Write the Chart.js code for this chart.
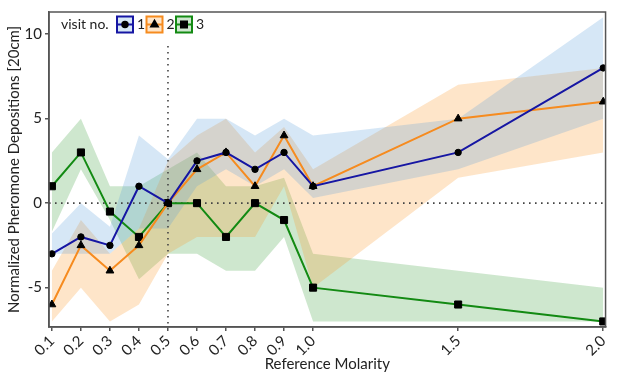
<!DOCTYPE html>
<html>
<head>
<meta charset="utf-8">
<script src="https://cdn.jsdelivr.net/npm/chart.js@4.4.1/dist/chart.umd.min.js"></script>
<style>
  html, body { margin: 0; padding: 0; background: #fff; }
</style>
</head>
<body>
<canvas id="chart" width="617" height="380"></canvas>
<script>
// data
const molarity = [0.1, 0.2, 0.3, 0.4, 0.5, 0.6, 0.7, 0.8, 0.9, 1.0, 1.5, 2.0];
const xTicks = [0.1, 0.2, 0.3, 0.4, 0.5, 0.6, 0.7, 0.8, 0.9, 1.0, 1.5, 2.0];
const yTicks = [-5, 0, 5, 10];

const visit1 = [-3, -2, -2.5, 1, 0, 2.5, 3, 2, 3, 1, 3, 8];
const visit1Upper = [-1.8, 0, -1.4, 4, 2.6, 5, 5, 4, 5, 4, 5, 11];
const visit1Lower = [-3, -3, -3, -1.5, -1.5, 1, 2, 1, 2, 0.3, 2, 5];

const visit2 = [-6, -2.5, -4, -2.5, 0, 2, 3, 1, 4, 1, 5, 6];
const visit2Upper = [-4, -1, -3, -1.5, 2.5, 4, 5, 3, 4.5, 2, 7, 8];
const visit2Lower = [-7, -5, -7, -6, -3, -2, -2, -2, 1, -5, 1.5, 3];

const visit3 = [1, 3, -0.5, -2, 0, 0, -2, 0, -1, -5, -6, -7];
const visit3Upper = [3, 5, 1, 1, 2, 3, 1, 1, 1.5, -3, -4, -5];
const visit3Lower = [-1.7, 2, -1, -4.5, -3, -3, -4, -4, -2, -7, -7, -7];

const visitLabels = ["1", "2", "3"];

const FONT = "Lato, 'Open Sans', sans-serif";

const series = [
    { label: "1", values: visit1, upper: visit1Upper, lower: visit1Lower,
      line: "#1616a3", band: "rgba(90,160,220,0.25)", marker: "circle", radius: 3.2 },
    { label: "2", values: visit2, upper: visit2Upper, lower: visit2Lower,
      line: "#f68b1f", band: "rgba(252,150,40,0.25)", marker: "triangle", radius: 4.5 },
    { label: "3", values: visit3, upper: visit3Upper, lower: visit3Lower,
      line: "#138a13", band: "rgba(60,160,60,0.25)", marker: "rect", radius: 5 }
];

function pts(arr) {
    return arr.map((v, i) => ({ x: molarity[i], y: v }));
}

const datasets = [];
series.forEach(s => {
    datasets.push({
        label: s.label + " upper", data: pts(s.upper),
        borderWidth: 0, pointRadius: 0, fill: false, order: 2
    });
    datasets.push({
        label: s.label + " lower", data: pts(s.lower),
        borderWidth: 0, pointRadius: 0, backgroundColor: s.band, fill: "-1", order: 2
    });
});
series.forEach(s => {
    datasets.push({
        label: s.label, data: pts(s.values),
        borderColor: s.line, borderWidth: 2,
        pointStyle: s.marker, pointRadius: s.radius,
        pointBackgroundColor: "#000", pointBorderColor: "#000", pointBorderWidth: 1,
        fill: false, order: 1
    });
});

// dotted lines at y = 0 and x = 0.5
const refLines = {
    id: "refLines",
    beforeDatasetsDraw(chart) {
        const { ctx, chartArea, scales } = chart;
        ctx.save();
        ctx.strokeStyle = "#444";
        ctx.lineWidth = 1.6;
        ctx.setLineDash([1.6, 4.4]);
        const y0 = scales.y.getPixelForValue(0);
        ctx.beginPath();
        ctx.moveTo(chartArea.left, y0);
        ctx.lineTo(chartArea.right, y0);
        ctx.stroke();
        const x0 = scales.x.getPixelForValue(0.5);
        ctx.beginPath();
        ctx.moveTo(x0, scales.y.getPixelForValue(9.3));
        ctx.lineTo(x0, chartArea.bottom);
        ctx.stroke();
        ctx.restore();
    }
};

// box round the plot and the legend inside it
const frameAndLegend = {
    id: "frameAndLegend",
    afterDraw(chart) {
        const { ctx, chartArea } = chart;
        ctx.save();
        ctx.strokeStyle = "#555";
        ctx.lineWidth = 1.5;
        ctx.strokeRect(chartArea.left, chartArea.top, chartArea.right - chartArea.left, chartArea.bottom - chartArea.top);

        ctx.font = "14px " + FONT;
        ctx.fillStyle = "#222";
        ctx.textBaseline = "middle";
        ctx.textAlign = "left";
        const ly = 24.5;
        ctx.fillText("visit no.", 61, ly);

        let x = 117;
        series.forEach((s, i) => {
            const w = 16, h = 16;
            ctx.fillStyle = s.band;
            ctx.fillRect(x, ly - h / 2, w, h);
            ctx.strokeStyle = s.line;
            ctx.lineWidth = 2;
            ctx.strokeRect(x, ly - h / 2, w, h);
            ctx.beginPath();
            ctx.moveTo(x, ly);
            ctx.lineTo(x + w, ly);
            ctx.stroke();
            ctx.fillStyle = "#000";
            ctx.strokeStyle = "#000";
            Chart.helpers.drawPoint(ctx, { pointStyle: s.marker, radius: s.radius * 0.85, rotation: 0, borderWidth: 1 }, x + w / 2, ly);
            ctx.fillStyle = "#222";
            ctx.fillText(visitLabels[i], x + w + 4, ly);
            x += 29.5;
        });
        ctx.restore();
    }
};

new Chart(document.getElementById("chart"), {
    type: "line",
    data: { datasets },
    options: {
        responsive: false,
        animation: false,
        devicePixelRatio: 1,
        layout: { padding: { top: 7, right: 8, left: 0, bottom: 0 } },
        plugins: {
            legend: { display: false },
            tooltip: { enabled: false },
            filler: { drawTime: "beforeDatasetsDraw" }
        },
        elements: { line: { tension: 0 } },
        scales: {
            x: {
                type: "linear",
                min: 0.09,
                max: 2.008,
                afterBuildTicks: scale => { scale.ticks = xTicks.map(v => ({ value: v })); },
                afterFit: scale => { scale.height = 53; },
                ticks: {
                    autoSkip: false,
                    minRotation: 45, maxRotation: 45,
                    padding: 1,
                    color: "#222",
                    font: { family: FONT, size: 15 },
                    callback: v => v.toFixed(1)
                },
                grid: { drawOnChartArea: false, drawTicks: true, tickLength: 4, color: "#555", lineWidth: 1.5 },
                border: { display: true, color: "#555", width: 1.5 },
                title: {
                    display: true, text: "Reference Molarity",
                    color: "#222", font: { family: FONT, size: 15 },
                    padding: { top: 0, bottom: 7 }
                }
            },
            y: {
                min: -7.33,
                max: 11.31,
                afterBuildTicks: scale => { scale.ticks = yTicks.map(v => ({ value: v })); },
                afterFit: scale => { scale.width = 49; },
                ticks: {
                    autoSkip: false,
                    padding: 3,
                    color: "#222",
                    font: { family: FONT, size: 15 }
                },
                grid: { drawOnChartArea: false, drawTicks: true, tickLength: 4, color: "#555", lineWidth: 1.5 },
                border: { display: true, color: "#555", width: 1.5 },
                title: {
                    display: true, text: "Normalized Pheromone Depositions [20cm]",
                    color: "#222", font: { family: FONT, size: 15 },
                    padding: { top: 5, bottom: 0 }
                }
            }
        }
    },
    plugins: [refLines, frameAndLegend]
});
</script>
</body>
</html>
